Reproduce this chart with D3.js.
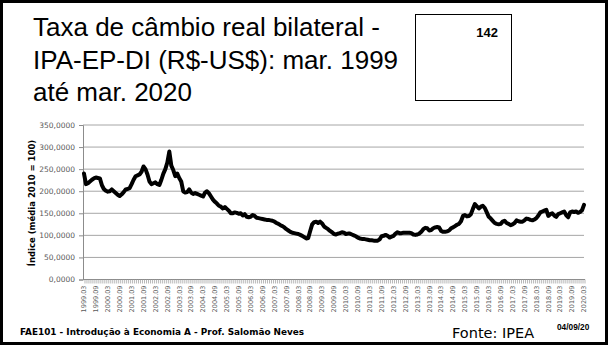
<!DOCTYPE html>
<html>
<head>
<meta charset="utf-8">
<script src="https://cdn.jsdelivr.net/npm/d3@7"></script>
<style>
  html, body { margin: 0; padding: 0; background: #fff; }
  svg { display: block; }
</style>
</head>
<body>
<svg id="slide" width="608" height="345"></svg>
<script>
// Monthly series, Mar 1999 .. Mar 2020 (index, média 2010 = 100)
const firstMonth = { year: 1999, month: 3 };
const lastMonth = { year: 2020, month: 3 };

const values = [
  // Mar 1999 - Feb 2000
  240, 216, 218, 222, 226, 229, 231, 230, 229, 214, 205, 201,
  // Mar 2000 - Feb 2001
  199, 200, 204, 200, 196, 192, 189, 193, 198, 204, 205, 207,
  // Mar 2001 - Feb 2002
  216, 226, 234, 236, 238, 244, 256, 250, 238, 222, 216, 218,
  // Mar 2002 - Feb 2003
  220, 216, 214, 226, 240, 250, 265, 290, 258, 248, 234, 240,
  // Mar 2003 - Feb 2004
  230, 222, 200, 197, 198, 204, 197, 194, 196, 194, 192, 190,
  // Mar 2004 - Feb 2005
  188, 197, 200, 195, 188, 181, 176, 172, 167, 165, 161, 164,
  // Mar 2005 - Feb 2006
  160, 156, 150, 150, 152, 151, 149, 150, 145, 148, 142, 141,
  // Mar 2006 - Feb 2007
  142, 146, 144, 140, 139, 138, 137, 136, 135, 135, 134, 133,
  // Mar 2007 - Feb 2008
  131, 128, 126, 123, 121, 118, 114, 111, 108, 106, 105, 104,
  // Mar 2008 - Feb 2009
  103, 101, 99, 96, 93, 94, 110, 125, 130, 131, 128, 131,
  // Mar 2009 - Feb 2010
  127, 120, 117, 114, 110, 107, 103, 102, 104, 105, 107, 106,
  // Mar 2010 - Feb 2011
  103, 104, 104, 102, 100, 98, 95, 93, 92, 92, 91, 90,
  // Mar 2011 - Feb 2012
  89, 89, 88, 88, 88, 91, 98, 99, 101, 99, 95, 97,
  // Mar 2012 - Feb 2013
  99, 104, 107, 105, 105, 106, 106, 106, 106, 105, 102, 101,
  // Mar 2013 - Feb 2014
  102, 104, 108, 114, 117, 116, 111, 112, 116, 118, 119, 118,
  // Mar 2014 - Feb 2015
  110, 108, 108, 109, 111, 116, 118, 121, 124, 126, 132, 144,
  // Mar 2015 - Feb 2016
  146, 143, 144, 148, 160, 171, 166, 161, 165, 167, 162, 152,
  // Mar 2016 - Feb 2017
  142, 138, 133, 128, 126, 125, 126, 131, 133, 128, 126, 123,
  // Mar 2017 - Feb 2018
  125, 128, 134, 132, 131, 131, 134, 138, 137, 135, 134, 136,
  // Mar 2018 - Feb 2019
  139, 145, 152, 154, 156, 158, 144, 148, 150, 145, 142, 148,
  // Mar 2019 - Feb 2020
  150, 152, 154, 146, 141, 152, 154, 153, 154, 151, 153, 157,
  // Mar 2020
  169
];

const yTicks = [0, 50, 100, 150, 200, 250, 300, 350];
const labelEvery = 6; // one date label per semester

const titleLines = [
  "Taxa de câmbio real bilateral -",
  "IPA-EP-DI (R$-US$): mar. 1999",
  "até mar. 2020"
];
const slideNumber = "142";
const yTitle = "Índice (média 2010 = 100)";
const footerLeft = "FAE101 - Introdução à Economia A - Prof. Salomão Neves";
const footerSource = "Fonte: IPEA";
const footerDate = "04/09/20";

// Category labels "YYYY.MM"
const categories = [];
for (let y = firstMonth.year, m = firstMonth.month; y < lastMonth.year || (y === lastMonth.year && m <= lastMonth.month); ) {
  categories.push(y + "." + String(m).padStart(2, "0"));
  m++; if (m > 12) { m = 1; y++; }
}
const data = categories.map((c, i) => ({ cat: c, v: values[i] }));

const svg = d3.select("#slide");
const W = 608, H = 345;

// Slide frame
svg.append("rect")
  .attr("x", 1.5).attr("y", 1.5).attr("width", W - 3).attr("height", H - 3)
  .attr("fill", "#fff").attr("stroke", "#000").attr("stroke-width", 3);

// Title
const title = svg.append("text")
  .attr("font-family", "'Liberation Sans', Arial, sans-serif")
  .attr("font-size", 26)
  .attr("fill", "#000");
titleLines.forEach((t, i) => {
  title.append("tspan").attr("x", 33).attr("y", 36 + i * 32.5).text(t);
});

// Slide number box
svg.append("rect")
  .attr("x", 415.5).attr("y", 14.5).attr("width", 96).attr("height", 86)
  .attr("fill", "#fff").attr("stroke", "#000").attr("stroke-width", 1);
svg.append("text")
  .attr("x", 498).attr("y", 37)
  .attr("text-anchor", "end")
  .attr("font-family", "'Liberation Sans', Arial, sans-serif")
  .attr("font-weight", "bold")
  .attr("font-size", 13)
  .text(slideNumber);

// Chart scales
const plot = { left: 83, right: 585, top: 125, bottom: 279.5 };
const x = d3.scaleBand().domain(categories).range([plot.left, plot.right]).padding(0);
const y = d3.scaleLinear().domain([0, 350]).range([plot.bottom, plot.top]);
const bw = x.bandwidth();

// Gridlines
svg.append("g")
  .selectAll("line")
  .data(yTicks.filter(d => d > 0))
  .join("line")
  .attr("x1", plot.left).attr("x2", plot.right - 1)
  .attr("y1", d => y(d)).attr("y2", d => y(d))
  .attr("stroke", "#a6a6a6").attr("stroke-width", 1);

// Y axis
const yAxis = svg.append("g")
  .attr("transform", `translate(${plot.left},0)`)
  .call(d3.axisLeft(y).tickValues(yTicks).tickSize(4).tickPadding(4)
    .tickFormat(d => d3.format(".4f")(d).replace(".", ",")));
yAxis.select(".domain").attr("stroke", "#8c8c8c");
yAxis.selectAll(".tick line").attr("stroke", "#8c8c8c");
yAxis.selectAll(".tick text")
  .attr("font-family", "'DejaVu Sans', sans-serif")
  .attr("font-size", 7.5)
  .attr("fill", "#595959");

// X axis: a tick at every month boundary, a label every semester
const xg = svg.append("g").attr("transform", `translate(0,${plot.bottom})`);
xg.append("line")
  .attr("x1", plot.left).attr("x2", plot.right)
  .attr("stroke", "#8c8c8c");
xg.selectAll("line.tk")
  .data(categories)
  .join("line")
  .attr("class", "tk")
  .attr("x1", d => x(d) + bw).attr("x2", d => x(d) + bw)
  .attr("y1", 0).attr("y2", 4)
  .attr("stroke", "#9a9a9a").attr("stroke-width", 0.7);
xg.selectAll("text")
  .data(categories.filter((d, i) => i % labelEvery === 0))
  .join("text")
  .attr("transform", d => `translate(${x(d) + bw / 2},6) rotate(-90)`)
  .attr("text-anchor", "end")
  .attr("dy", "0.35em")
  .attr("font-family", "'DejaVu Sans', sans-serif")
  .attr("font-size", 6.5)
  .attr("fill", "#595959")
  .text(d => d);

// Y axis title
svg.append("text")
  .attr("transform", "translate(32,203) rotate(-90)")
  .attr("text-anchor", "middle")
  .attr("dy", "0.35em")
  .attr("font-family", "'DejaVu Sans', sans-serif")
  .attr("font-weight", "bold")
  .attr("font-size", 8.5)
  .attr("fill", "#000")
  .text(yTitle);

// Series line
const line = d3.line()
  .x(d => x(d.cat) + bw / 2)
  .y(d => y(d.v));
svg.append("path")
  .datum(data)
  .attr("d", line)
  .attr("fill", "none")
  .attr("stroke", "#000")
  .attr("stroke-width", 4)
  .attr("stroke-linejoin", "round")
  .attr("stroke-linecap", "round");

// Footer
svg.append("text")
  .attr("x", 20).attr("y", 335)
  .attr("font-family", "'DejaVu Sans', sans-serif")
  .attr("font-weight", "bold")
  .attr("font-size", 8.9)
  .text(footerLeft);
svg.append("text")
  .attr("x", 452).attr("y", 338)
  .attr("font-family", "'DejaVu Sans', sans-serif")
  .attr("font-size", 14.5)
  .text(footerSource);
svg.append("text")
  .attr("x", 557).attr("y", 329.5)
  .attr("font-family", "'Liberation Sans', Arial, sans-serif")
  .attr("font-weight", "bold")
  .attr("font-size", 8.3)
  .text(footerDate);
</script>
</body>
</html>
